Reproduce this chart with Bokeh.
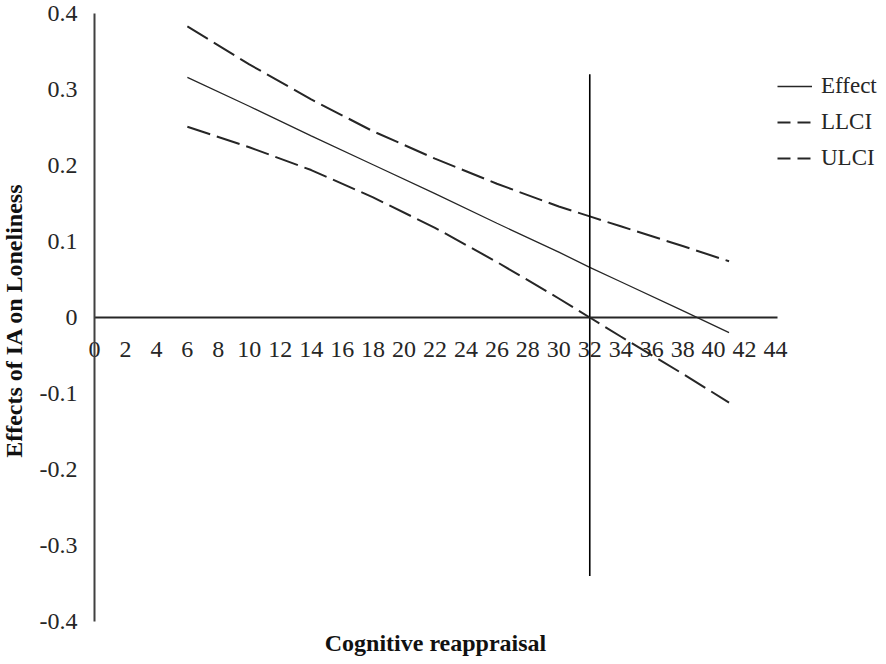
import numpy as np
from bokeh.plotting import figure
from bokeh.models import FixedTicker, Legend, LegendItem, Label
from bokeh.embed import file_html
from bokeh.resources import INLINE

# ---- data ----
x_vals = [6, 10, 14, 18, 22, 26, 30, 32, 34, 38, 41]
effect = [0.316, 0.278, 0.239, 0.201, 0.163, 0.124, 0.086, 0.066, 0.047, 0.009, -0.020]
llci = [0.251, 0.224, 0.194, 0.158, 0.118, 0.073, 0.025, 0.000, -0.025, -0.074, -0.112]
ulci = [0.383, 0.333, 0.287, 0.245, 0.209, 0.176, 0.146, 0.133, 0.120, 0.094, 0.074]

jn_x = [32, 32]
jn_y = [-0.34, 0.32]

x_ticks = [0, 2, 4, 6, 8, 10, 12, 14, 16, 18, 20, 22, 24, 26, 28, 30, 32, 34, 36, 38, 40, 42, 44]
y_ticks = [-0.4, -0.3, -0.2, -0.1, 0.0, 0.1, 0.2, 0.3, 0.4]
y_tick_labels = ["-0.4", "-0.3", "-0.2", "-0.1", "0", "0.1", "0.2", "0.3", "0.4"]

FONT = "Liberation Serif"
INK = "#262626"

W, H = 882, 658
# frame fills the whole canvas; axes cross at the origin
p = figure(width=W, height=H, x_range=(-6.074, 50.914), y_range=(-0.4487, 0.4171),
           output_backend="svg", toolbar_location=None,
           min_border_left=0, min_border_right=0, min_border_top=0, min_border_bottom=0)
p.outline_line_color = None
p.xgrid.visible = False
p.ygrid.visible = False

xa = p.xaxis[0]
xa.fixed_location = 0
xa.bounds = (0, 44.13)
xa.ticker = FixedTicker(ticks=x_ticks)
xa.axis_line_width = 2
xa.axis_line_color = INK
xa.major_tick_line_color = None
xa.minor_tick_line_color = None
xa.major_label_text_font = FONT
xa.major_label_text_font_size = "24px"
xa.major_label_text_color = INK
xa.major_label_standoff = 19

ya = p.yaxis[0]
ya.fixed_location = 0
ya.bounds = (-0.4, 0.4)
ya.ticker = FixedTicker(ticks=y_ticks)
ya.major_label_overrides = {t: l for t, l in zip(y_ticks, y_tick_labels)}
ya.axis_line_width = 2
ya.axis_line_color = "#404040"
ya.major_tick_line_color = None
ya.minor_tick_line_color = None
ya.major_tick_out = 0
ya.major_label_text_font = FONT
ya.major_label_text_font_size = "24px"
ya.major_label_text_color = INK
ya.major_label_standoff = 17
ya.axis_label = "Effects of  IA on Loneliness"
ya.axis_label_text_font = FONT
ya.axis_label_text_font_size = "24px"
ya.axis_label_text_font_style = "bold"
ya.axis_label_text_color = "#111111"
ya.axis_label_standoff = 10

p.add_layout(Label(x=435, y=16, x_units="screen", y_units="screen",
                   text="Cognitive reappraisal", text_align="center", text_baseline="middle",
                   text_font=FONT, text_font_size="24px", text_font_style="bold",
                   text_color="#111111"))

p.line(x_vals, effect, line_color=INK, line_width=1.3)
p.line(x_vals, llci, line_color=INK, line_width=2, line_dash="24 7")
p.line(x_vals, ulci, line_color=INK, line_width=2, line_dash="24 7")
p.line(jn_x, jn_y, line_color="black", line_width=1.6)

# legend swatches only (a single missing point draws nothing in the plot)
nan_pt = np.array([np.nan])
k_eff = p.line(nan_pt, nan_pt, line_color=INK, line_width=1.3)
k_ll = p.line(nan_pt, nan_pt, line_color=INK, line_width=2, line_dash="13 7")
k_ul = p.line(nan_pt, nan_pt, line_color=INK, line_width=2, line_dash="13 7")

legend = Legend(items=[LegendItem(label="Effect", renderers=[k_eff]),
                       LegendItem(label="LLCI", renderers=[k_ll]),
                       LegendItem(label="ULCI", renderers=[k_ul])],
                location=(777, 487), border_line_color=None, background_fill_alpha=0,
                glyph_width=35, glyph_height=20, label_standoff=9, spacing=10,
                padding=0, margin=0, label_text_font=FONT, label_text_font_size="23px",
                label_text_color=INK)
p.add_layout(legend)

open("out.html", "w").write(file_html(p, INLINE))
